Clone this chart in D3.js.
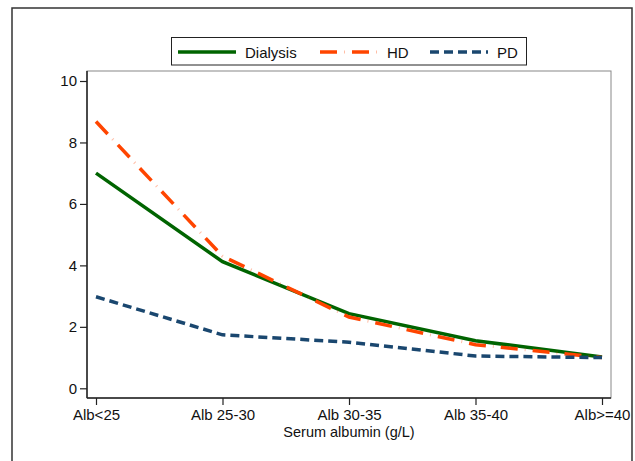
<!DOCTYPE html>
<html>
<head>
<meta charset="utf-8">
<script src="https://cdn.jsdelivr.net/npm/d3@7"></script>
<style>
  body { margin: 0; background: #fff; }
  svg { font-family: "Liberation Sans", Arial, sans-serif; }
</style>
</head>
<body>
<svg id="chart" width="635" height="461"></svg>
<script>
const categories = ["Alb<25", "Alb 25-30", "Alb 30-35", "Alb 35-40", "Alb>=40"];
const dialysis = [7.0, 4.12, 2.43, 1.55, 1.02];
const hd = [8.68, 4.3, 2.32, 1.42, 1.0];
const pd = [2.98, 1.74, 1.5, 1.05, 1.0];
const yTicks = [0, 2, 4, 6, 8, 10];

const series = [
  {name: "Dialysis", values: dialysis, color: "#006400", dash: null, dot: false},
  {name: "HD", values: hd, color: "#ff4500", dash: "17,15", dot: true},
  {name: "PD", values: pd, color: "#1a476f", dash: "9,5", dot: false}
];

let svg = d3.select("#chart");

// outer graph region border
svg.append("path")
    .attr("d", "M12,470 L12,8 L632,8 L632,470")
    .attr("fill", "none")
    .attr("stroke", "#333")
    .attr("stroke-width", 1.5);

let plot = {left: 87, right: 611, top: 71, bottom: 398};

let x = d3.scalePoint()
    .domain(categories)
    .range([96, 602]);

let y = d3.scaleLinear()
    .domain([0, 10])
    .range([388.3, 81]);

// plot region frame
svg.append("rect")
    .attr("x", plot.left)
    .attr("y", plot.top)
    .attr("width", plot.right - plot.left)
    .attr("height", plot.bottom - plot.top)
    .attr("fill", "none")
    .attr("stroke", "#888")
    .attr("stroke-width", 1);

let xAxis = svg.append("g")
    .attr("transform", `translate(0,${plot.bottom})`)
    .call(d3.axisBottom(x).tickSize(7).tickPadding(4));
xAxis.select(".domain").attr("d", `M${plot.left},0H${plot.right}`)
    .attr("stroke", "#222").attr("stroke-width", 1.5);

let yAxis = svg.append("g")
    .attr("transform", `translate(${plot.left},0)`)
    .call(d3.axisLeft(y).tickValues(yTicks).tickSize(7).tickPadding(3));
yAxis.select(".domain").attr("d", `M0,${plot.top}V${plot.bottom}`)
    .attr("stroke", "#222").attr("stroke-width", 1.5);

svg.selectAll(".tick line").attr("stroke", "#222").attr("stroke-width", 1.2);
svg.selectAll(".tick text")
    .attr("fill", "#111")
    .style("font-size", "15px")
    .style("font-family", "Liberation Sans, Arial, sans-serif");

svg.append("text")
    .attr("x", 349)
    .attr("y", 437)
    .attr("text-anchor", "middle")
    .style("font-size", "14.5px")
    .attr("fill", "#111")
    .text("Serum albumin (g/L)");

let line = d3.line()
    .x((d, i) => x(categories[i]))
    .y(d => y(d));

function drawStroke(sel, s) {
    sel.attr("fill", "none")
        .attr("stroke", s.color)
        .attr("stroke-width", 3.5)
        .attr("stroke-dasharray", s.dash);
}

function drawDots(sel, s) {
    sel.attr("fill", "none")
        .attr("stroke", s.color)
        .attr("stroke-opacity", 0.35)
        .attr("stroke-width", 3)
        .attr("stroke-dasharray", "1,31")
        .attr("stroke-dashoffset", -24);
}

series.forEach(s => {
    svg.append("path").datum(s.values).attr("d", line).call(drawStroke, s);
    if (s.dot) svg.append("path").datum(s.values).attr("d", line).call(drawDots, s);
});

// legend
let legend = svg.append("g");
legend.append("rect")
    .attr("x", 171.5)
    .attr("y", 37.5)
    .attr("width", 355)
    .attr("height", 27.5)
    .attr("fill", "#fff")
    .attr("stroke", "#222")
    .attr("stroke-width", 1);

let legendX = [178, 320, 430];
series.forEach((s, i) => {
    let p = `M${legendX[i]},52H${legendX[i] + 58}`;
    legend.append("path").attr("d", p).call(drawStroke, s);
    if (s.dot) legend.append("path").attr("d", p).call(drawDots, s);
    legend.append("text")
        .attr("x", legendX[i] + 67)
        .attr("y", 57.5)
        .style("font-size", "15px")
        .attr("fill", "#111")
        .text(s.name);
});
</script>
</body>
</html>
